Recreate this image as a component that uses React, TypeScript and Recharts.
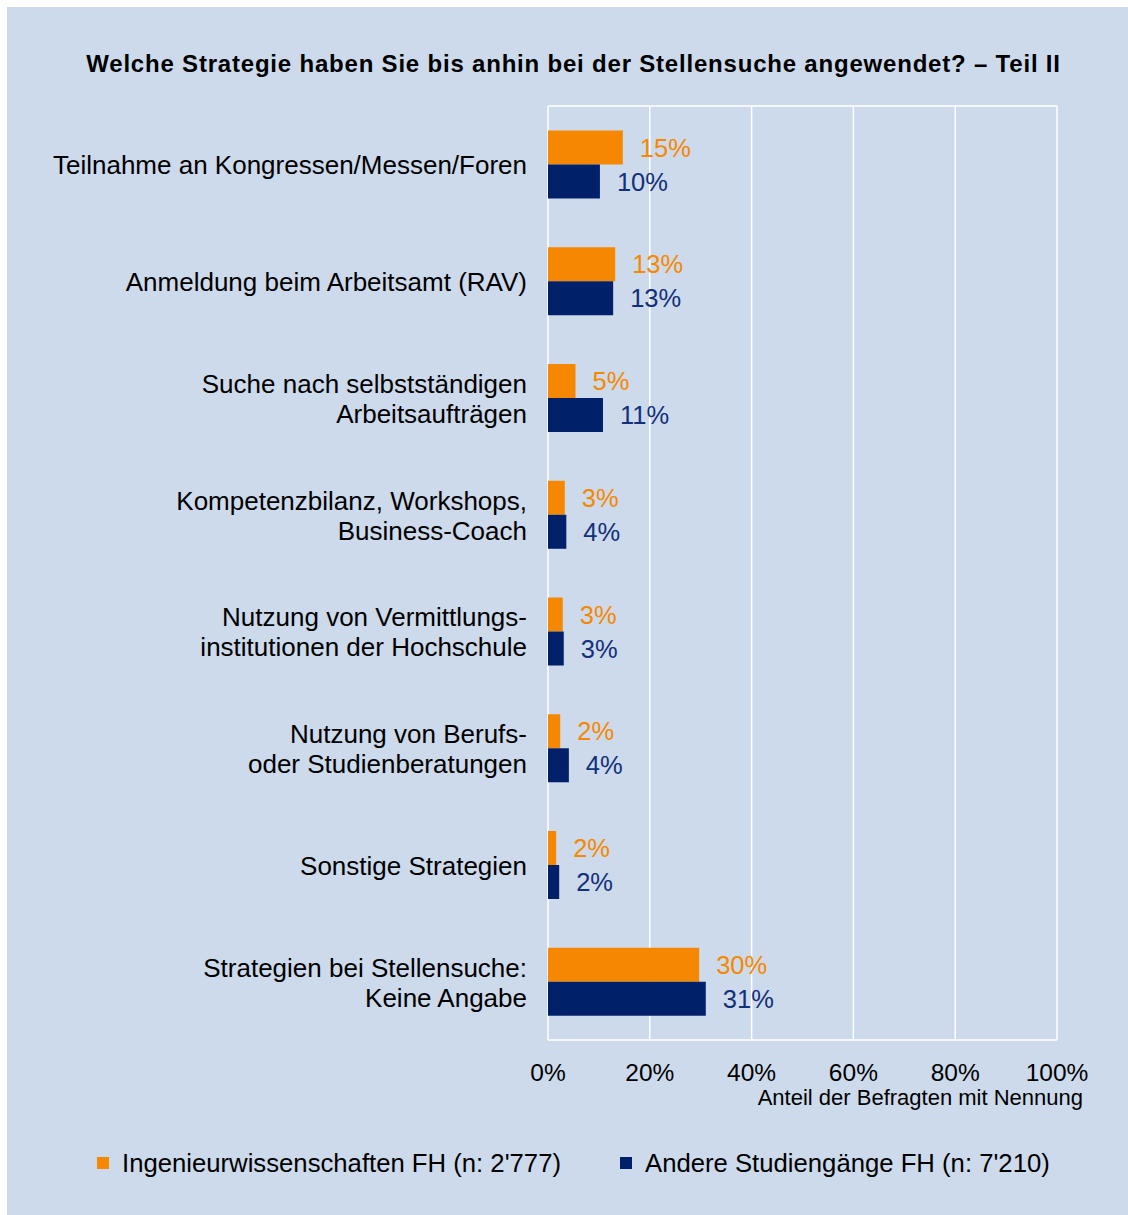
import { Bar, BarChart, CartesianGrid, LabelList, XAxis, YAxis } from 'recharts';

const categories = [
  'Teilnahme an Kongressen/Messen/Foren',
  'Anmeldung beim Arbeitsamt (RAV)',
  'Suche nach selbstständigen\nArbeitsaufträgen',
  'Kompetenzbilanz, Workshops,\nBusiness-Coach',
  'Nutzung von Vermittlungs-\ninstitutionen der Hochschule',
  'Nutzung von Berufs-\noder Studienberatungen',
  'Sonstige Strategien',
  'Strategien bei Stellensuche:\nKeine Angabe',
];
const ingenieur = [14.7, 13.2, 5.4, 3.3, 2.9, 2.4, 1.6, 29.7];
const andere = [10.2, 12.8, 10.8, 3.6, 3.1, 4.1, 2.2, 31.0];
const xTicks = [0, 20, 40, 60, 80, 100];

const seriesNames = ['Ingenieurwissenschaften FH (n: 2\'777)', 'Andere Studiengänge FH (n: 7\'210)'];
const ORANGE = '#F58800';
const NAVY = '#00216A';
const BG = '#cddaeb';
const FONT = '"Liberation Sans", Arial, Helvetica, sans-serif';

const data = categories.map((name, i) => ({ name, ing: ingenieur[i], and: andere[i] }));

const W = 1121;
const H = 1208;

// y labels: right aligned, multi-line, 30px line spacing
function CategoryTick({ x, y, payload }: any) {
  const lines: string[] = String(payload.value).split('\n');
  const lh = 30;
  const start = y + 1 - ((lines.length - 1) * lh) / 2;
  return (
    <text x={x - 13} y={start} textAnchor="end" fontSize={26} fill="#000" fontFamily={FONT}>
      {lines.map((l, i) => (
        <tspan key={i} x={x - 13} y={start + i * lh} dominantBaseline="central">
          {l}
        </tspan>
      ))}
    </text>
  );
}

function PercentTick({ x, y, payload }: any) {
  return (
    <text x={x} y={y + 24} textAnchor="middle" dominantBaseline="central" fontSize={24.5} fill="#000" fontFamily={FONT}>
      {payload.value}%
    </text>
  );
}

export default function App() {
  return (
    <div style={{ position: 'absolute', left: 7, top: 7, width: W, height: H, background: BG, fontFamily: FONT }}>
      <div
        style={{
          position: 'absolute',
          left: 6,
          top: 42,
          width: W,
          textAlign: 'center',
          fontWeight: 'bold',
          fontSize: 24,
          letterSpacing: 0.8,
          lineHeight: '30px',
          color: '#000',
          whiteSpace: 'nowrap',
        }}
      >
        Welche Strategie haben Sie bis anhin bei der Stellensuche angewendet? – Teil II
      </div>
      <BarChart
        width={W}
        height={H}
        data={data}
        layout="vertical"
        margin={{ top: 99, right: 71, bottom: 145, left: 0 }}
        barCategoryGap="21%"
        barGap={0}
      >
        <CartesianGrid
          stroke="#ffffff"
          strokeWidth={1.5}
          horizontalCoordinatesGenerator={({ offset }: any) => [offset.top, offset.top + offset.height]}
        />
        <XAxis
          type="number"
          domain={[0, 100]}
          ticks={xTicks}
          axisLine={false}
          tickLine={false}
          tick={<PercentTick />}
          interval={0}
        />
        <YAxis type="category" dataKey="name" width={541} axisLine={false} tickLine={false} tick={<CategoryTick />} interval={0} />
        <Bar dataKey="ing" fill={ORANGE} isAnimationActive={false}>
          <LabelList
            dataKey="ing"
            position="right"
            offset={17}
            formatter={(v: any) => `${Math.round(v)}%`}
            style={{ fill: ORANGE, fontSize: 25.5, fontFamily: FONT }}
          />
        </Bar>
        <Bar dataKey="and" fill={NAVY} isAnimationActive={false}>
          <LabelList
            dataKey="and"
            position="right"
            offset={17}
            formatter={(v: any) => `${Math.round(v)}%`}
            style={{ fill: '#13307a', fontSize: 25.5, fontFamily: FONT }}
          />
        </Bar>
      </BarChart>
      <div
        style={{
          position: 'absolute',
          right: W - 1076,
          top: 1080,
          fontSize: 22,
          lineHeight: '22px',
          color: '#000',
          whiteSpace: 'nowrap',
        }}
      >
        Anteil der Befragten mit Nennung
      </div>
      {seriesNames.map((n, i) => (
        <div
          key={n}
          style={{
            position: 'absolute',
            left: i === 0 ? 90 : 613,
            top: 1141,
            display: 'flex',
            alignItems: 'center',
            fontSize: 25.7,
            lineHeight: '30px',
            color: '#000',
            whiteSpace: 'nowrap',
          }}
        >
          <span style={{ display: 'inline-block', width: 12, height: 12, background: i === 0 ? ORANGE : NAVY, marginRight: 13 }} />
          {n}
        </div>
      ))}
    </div>
  );
}
